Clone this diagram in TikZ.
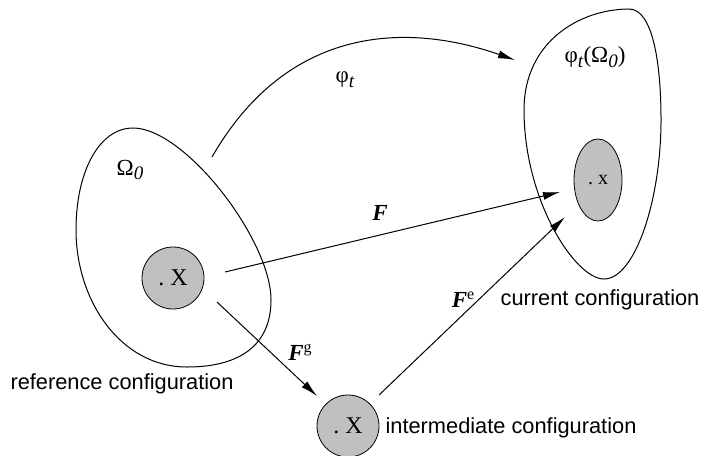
\documentclass[tikz,border=0pt]{standalone}
\usepackage{fontspec}
\setmainfont{Liberation Serif}
\setsansfont{Liberation Sans}
\usetikzlibrary{shapes.geometric,arrows.meta,positioning}
\definecolor{cFill}{RGB}{192,192,192}
\newcommand{\lowsub}[1]{\raisebox{-0.45ex}{\fontsize{9.5}{10}\selectfont\textit{#1}}}
\newcommand{\highsup}[1]{\raisebox{0.75ex}{\fontsize{8}{9}\selectfont #1}}
\tikzset{
  basebox/.style={draw=black,fill=cFill,inner sep=0pt,
                  font=\fontsize{12}{13}\selectfont},
  ptnode/.style={basebox,circle,minimum size=31pt},
  curnode/.style={basebox,ellipse,minimum width=24pt,minimum height=41pt,
                  font=\fontsize{10}{11}\selectfont},
  cfgtext/.style={font=\sffamily\fontsize{10.9}{13}\selectfont},
  symtext/.style={font=\fontsize{11.5}{13}\selectfont},
  maptext/.style={font=\fontsize{11.5}{12}\selectfont},
  region/.style={line width=0.5pt},
  arr/.style={-{Latex[length=8.5pt,width=4pt]},line width=0.5pt}
}

\begin{document}
\begin{tikzpicture}[x=0.5pt,y=-0.5pt]
  \useasboundingbox (0,0) rectangle (704,455);

  % reference body
  \draw[region] (133,128) .. controls (185,128) and (271,240) .. (271,300)
    .. controls (271,345) and (240,367) .. (187,367)
    .. controls (120,367) and (76,300) .. (76,230)
    .. controls (76,170) and (100,128) .. (133,128) -- cycle;
  % current body
  \draw[region] (629,9) .. controls (652,9) and (661,60) .. (661,120)
    .. controls (661,200) and (635,279) .. (604,279)
    .. controls (575,279) and (524,200) .. (524,110)
    .. controls (524,40) and (582,9) .. (629,9) -- cycle;

  % material points
  \node[ptnode] (xref) at (173,278) {.\ X};
  \node[ptnode] (xint) at (348,426) {.\ X};
  \node[curnode] (xcur) at (598,180) {.\ x};

  % arrow ends
  \coordinate (mapA) at (212,157);
  \coordinate (mapB) at (515,60);
  \coordinate (fA) at (225,272);
  \coordinate (fB) at (560,192);
  \coordinate (fgA) at (217,302);
  \coordinate (fgB) at (317,396);
  \coordinate (feA) at (379,395);
  \coordinate (feB) at (565,217);

  % labels
  \node[symtext] (om0) at (130,170) {Ω\lowsub{0}};
  \node[symtext] (phit) at (345,80) {φ\lowsub{t}};
  \node[symtext] (phiom) at (595,57) {φ\lowsub{t}(Ω\lowsub{0})};
  \node[maptext] (flab) at (380,213) {\textbf{\textit{F}}};
  \node[maptext] (fglab) at (300,352) {\textbf{\textit{F}}\highsup{g}};
  \node[maptext] (felab) at (463,300) {\textbf{\textit{F}}\highsup{e}};
  \node[cfgtext] (refcfg) at (122,384) {reference configuration};
  \node[cfgtext] (curcfg) at (600,300) {current configuration};
  \node[cfgtext] (intcfg) at (511,428) {intermediate configuration};

  \draw[arr] (mapA) .. controls (285,30) and (400,20) .. (mapB);
  \draw[arr] (fA) -- (fB);
  \draw[arr] (fgA) -- (fgB);
  \draw[arr] (feA) -- (feB);

\end{tikzpicture}
\end{document}
